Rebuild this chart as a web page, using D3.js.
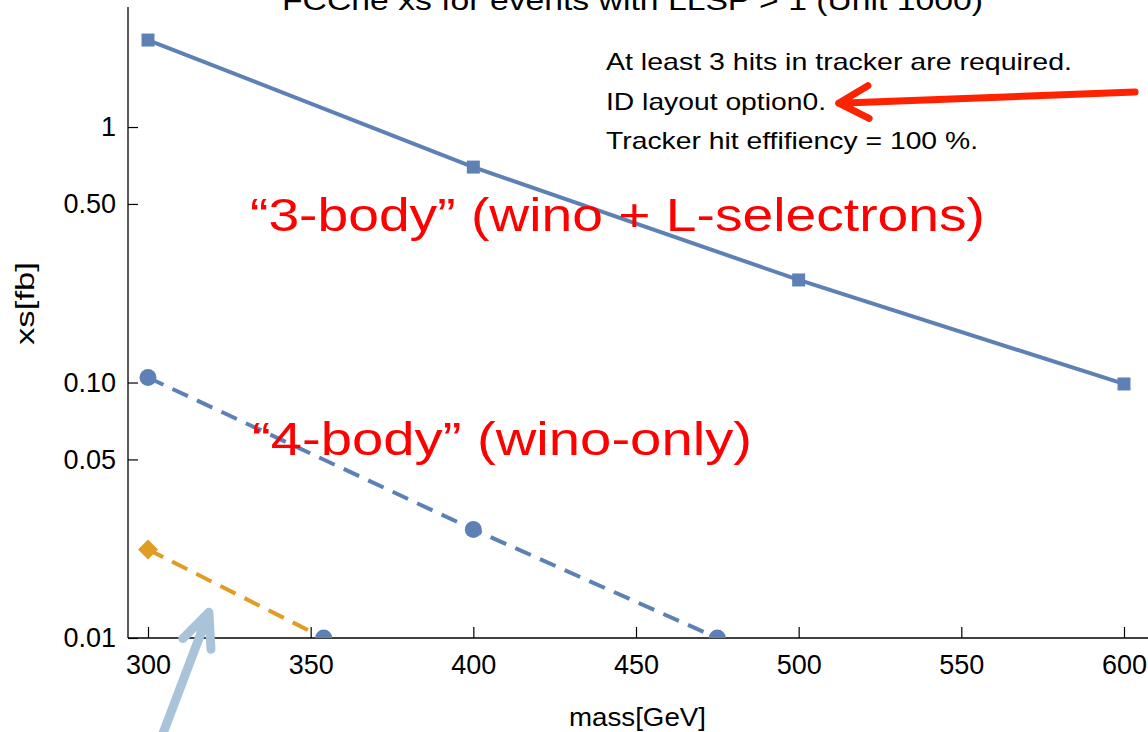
<!DOCTYPE html>
<html>
<head>
<meta charset="utf-8">
<script src="https://cdn.jsdelivr.net/npm/d3@7"></script>
<style>
  html, body { margin: 0; padding: 0; background: #fff; }
  svg { display: block; font-family: "Liberation Sans", Arial, sans-serif; }
</style>
</head>
<body>
<svg id="chart" width="1148" height="732"></svg>
<script>
// Cross sections (fb) vs. mass (GeV)
const mass3Body = [300, 400, 500, 600];
const xs3Body = [2.19, 0.697, 0.252, 0.0987];

const mass4Body = [300, 400, 475];
const xs4Body = [0.1046, 0.0266, 0.01];

const massOther = [300, 354];
const xsOther = [0.0222, 0.01];

// Axis ticks
const xMajorTicks = [300, 350, 400, 450, 500, 550, 600];
const yMajorTicks = [0.01, 0.05, 0.1, 0.5, 1];
const yMajorLabels = ["0.01", "0.05", "0.10", "0.50", "1"];

const titleText = "FCChe xs for events with LLSP > 1 (Unit 1000)";
const noteLines = [
  "At least 3 hits in tracker are required.",
  "ID layout option0.",
  "Tracker hit effifiency = 100 %."
];
const label3Body = "\u201C3-body\u201D (wino + L-selectrons)";
const label4Body = "\u201C4-body\u201D (wino-only)";

const mLeft = 128, mRight = 1148, mTop = 7, mBottom = 638;

const x = d3.scaleLinear().domain([293.85, 607.38]).range([mLeft, mRight]);
const y = d3.scaleLog().domain([0.01, 2.95]).range([mBottom, mTop]);

const svg = d3.select("#chart");

// minor ticks
const xMinorTicks = d3.range(300, 608, 10).filter(v => !xMajorTicks.includes(v));
const yMinorTicks = [];
[0.01, 0.1, 1].forEach(d => {
  for (let k = 2; k <= 9; k++) {
    const v = +(k * d).toPrecision(3);
    if (v <= 2.95 && !yMajorTicks.includes(v)) yMinorTicks.push(v);
  }
});

const BLUE = "#5E81B5", ORANGE = "#E19C24";

// text helper: fixed start, stretched to a given run length
function fitText(g, str, x0, y0, size, len, color) {
  return g.append("text")
    .attr("x", x0).attr("y", y0)
    .attr("font-size", size)
    .attr("fill", color || "#000")
    .attr("textLength", len)
    .attr("lengthAdjust", "spacingAndGlyphs")
    .text(str);
}

// Title (runs off the top edge)
fitText(svg, titleText, 282, 10, 28, 701);

// Axes
const axisFont = 27;
const gx = svg.append("g").attr("transform", `translate(0,${mBottom})`);
gx.call(d3.axisBottom(x).tickValues(xMinorTicks).tickSize(-6).tickFormat(""));
gx.call(d3.axisBottom(x).tickValues(xMajorTicks).tickSize(-11).tickPadding(17).tickFormat(d3.format("d")));
gx.selectAll(".domain").attr("d", `M${mLeft},0H${mRight}`);

const gy = svg.append("g").attr("transform", `translate(${mLeft},0)`);
gy.call(d3.axisLeft(y).tickValues(yMinorTicks).tickSize(-6).tickFormat(""));
gy.call(d3.axisLeft(y).tickValues(yMajorTicks).tickSize(-10).tickPadding(12)
  .tickFormat((d, i) => yMajorLabels[i]));
gy.selectAll(".domain").attr("d", `M0,${mTop}V${mBottom}`);

svg.selectAll(".tick text")
  .attr("font-family", "'Liberation Sans', Arial, sans-serif")
  .attr("font-size", axisFont)
  .attr("fill", "#000");
svg.selectAll(".tick line").attr("stroke", "#000").attr("stroke-width", 1.2);
svg.selectAll(".domain").attr("stroke", "#000").attr("stroke-width", 1.3);

// Axis titles
fitText(svg, "mass[GeV]", 569, 726, 26, 137);
fitText(svg.append("g").attr("transform", "translate(34,345) rotate(-90)"),
  "xs[fb]", 0, 0, 26, 83);

// Plot area clip
svg.append("defs").append("clipPath").attr("id", "plotClip")
  .append("rect").attr("x", mLeft).attr("y", mTop - 4)
  .attr("width", mRight - mLeft).attr("height", mBottom - mTop + 4);

const plot = svg.append("g").attr("clip-path", "url(#plotClip)");
const line = d3.line().x(d => x(d[0])).y(d => y(d[1]));

const pts3 = mass3Body.map((m, i) => [m, xs3Body[i]]);
const pts4 = mass4Body.map((m, i) => [m, xs4Body[i]]);
const ptsO = massOther.map((m, i) => [m, xsOther[i]]);

plot.append("path").datum(pts3).attr("d", line)
  .attr("fill", "none").attr("stroke", BLUE).attr("stroke-width", 4);
plot.append("path").datum(pts4).attr("d", line)
  .attr("fill", "none").attr("stroke", BLUE).attr("stroke-width", 4)
  .attr("stroke-dasharray", "17,10");
plot.append("path").datum(ptsO).attr("d", line)
  .attr("fill", "none").attr("stroke", ORANGE).attr("stroke-width", 4)
  .attr("stroke-dasharray", "17,10");

// Markers
plot.selectAll(".sq").data(pts3).join("rect")
  .attr("x", d => x(d[0]) - 6.5).attr("y", d => y(d[1]) - 6.5)
  .attr("width", 13).attr("height", 13).attr("fill", BLUE);
plot.selectAll(".ci").data(pts4.concat([ptsO[1]])).join("circle")
  .attr("cx", d => x(d[0])).attr("cy", d => y(d[1])).attr("r", 8.5)
  .attr("fill", BLUE);
plot.selectAll(".di").data([ptsO[0]]).join("path")
  .attr("d", d3.symbol(d3.symbolSquare, 200))
  .attr("transform", d => `translate(${x(d[0])},${y(d[1])}) rotate(45)`)
  .attr("fill", ORANGE);

// Notes
const notes = svg.append("g");
const noteLens = [466, 220, 372];
noteLines.forEach((t, i) => {
  fitText(notes, t, 606, 70 + i * 39.5, 24, noteLens[i]);
});

// Red labels
fitText(svg, label3Body, 250, 231, 47, 735, "#FF0000");
fitText(svg, label4Body, 252, 455, 47, 500, "#FF0000");

// Arrows
function arrow(g, x0, y0, x1, y1, headLen, headAngle, color, width) {
  const a = Math.atan2(y0 - y1, x0 - x1);
  const p = d3.path();
  p.moveTo(x0, y0); p.lineTo(x1, y1);
  p.moveTo(x1 + headLen * Math.cos(a + headAngle), y1 + headLen * Math.sin(a + headAngle));
  p.lineTo(x1, y1);
  p.lineTo(x1 + headLen * Math.cos(a - headAngle), y1 + headLen * Math.sin(a - headAngle));
  g.append("path").attr("d", p.toString())
    .attr("fill", "none").attr("stroke", color).attr("stroke-width", width)
    .attr("stroke-linecap", "round").attr("stroke-linejoin", "round");
}
arrow(svg, x(603.4), y(1.37), x(512.3), y(1.24), 34, 0.5, "#FF2200", 7);
arrow(svg, 162, 736, x(318.7), y(0.0126), 37, 0.42, "#A9C3D9", 9);
</script>
</body>
</html>
